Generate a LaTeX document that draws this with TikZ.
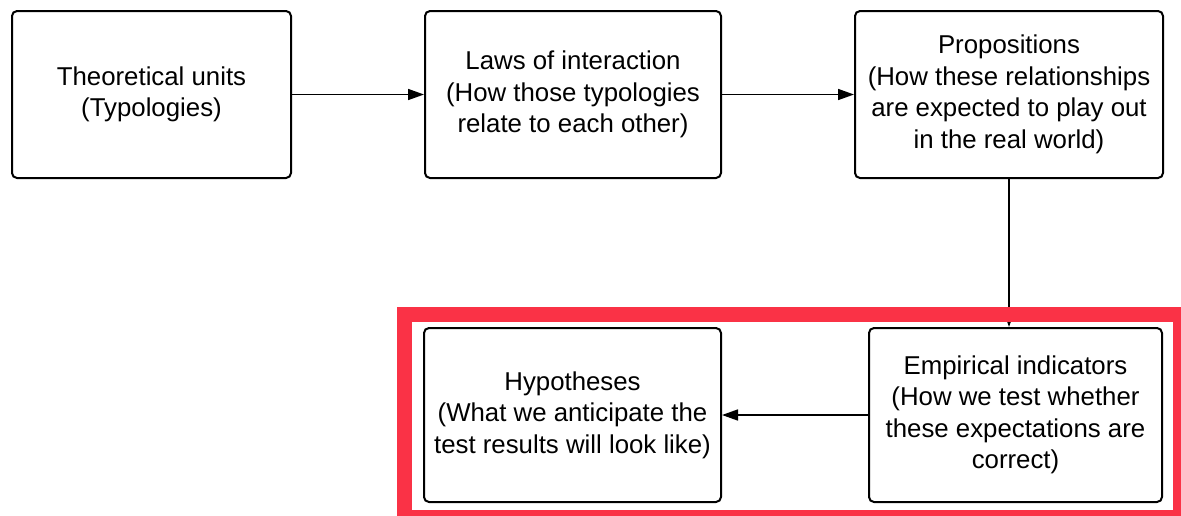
\documentclass[tikz,border=0pt]{standalone}
\usepackage{fontspec}
\setmainfont{Liberation Sans}
\usetikzlibrary{arrows.meta}
\definecolor{frame}{RGB}{250,50,70}
\begin{document}
\begin{tikzpicture}[x=1pt,y=-1pt,
  box/.style={draw, line width=2pt, rounded corners=5pt, align=center,
    font=\fontsize{25.8}{31.5}\selectfont, inner sep=0pt},
  link/.style={line width=1.6pt, -{Triangle[length=16pt,width=11pt]}}]
  \useasboundingbox (0,0) rectangle (1181,515);

  % top row
  \node[box, minimum width=279pt, minimum height=167pt] (units) at (151.5,94.5)
    {Theoretical units\\(Typologies)};
  \node[box, minimum width=296pt, minimum height=167pt] (laws) at (573,94.5)
    {Laws of interaction\\(How those typologies\\relate to each other)};
  \node[box, minimum width=308pt, minimum height=167pt] (props) at (1009,94.5)
    {Propositions\\(How these relationships\\are expected to play out\\in the real world)};

  % bottom row
  \node[box, minimum width=293pt, minimum height=174pt] (emp) at (1015.5,415)
    {Empirical indicators\\(How we test whether\\these expectations are\\correct)};
  \node[box, minimum width=297pt, minimum height=174pt] (hyp) at (572.5,415)
    {Hypotheses\\(What we anticipate the\\test results will look like)};

  % connectors
  \draw[link] (units) -- (laws);
  \draw[link] (laws) -- (props);
  \draw[link] (props.south) -- (props.south |- emp.north);
  \draw[link] (emp) -- (hyp);

  % highlight frame around the bottom row
  \begin{scope}
    \clip (0,0) rectangle (1181,515);
    \draw[frame, line width=15pt] (404.5,314.5) rectangle (1180.5,517.5);
  \end{scope}
\end{tikzpicture}
\end{document}
